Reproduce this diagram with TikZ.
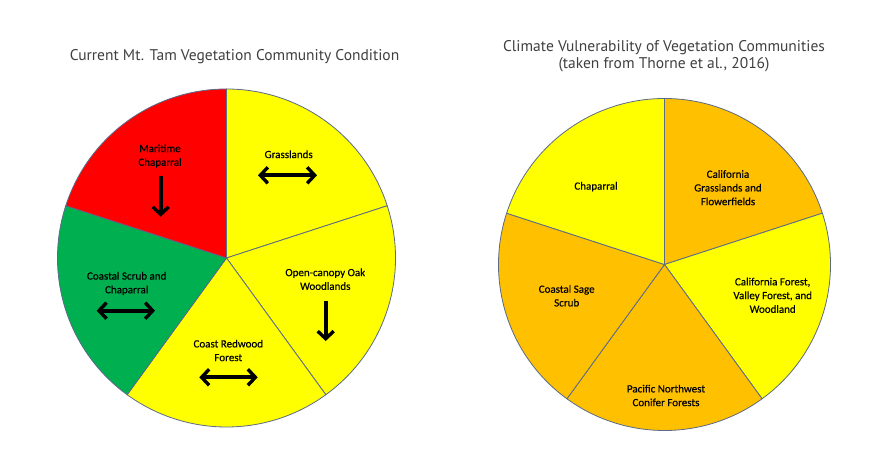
\documentclass[tikz,border=0pt]{standalone}
\usepackage{fontspec}
\setmainfont{Carlito}[FakeBold=0.35]
\newfontfamily\titlefont{PT Sans}
\usetikzlibrary{arrows.meta}
\definecolor{cred}{HTML}{FF0000}
\definecolor{cyel}{HTML}{FFFF00}
\definecolor{cgrn}{HTML}{00B050}
\definecolor{corg}{HTML}{FFC000}
\definecolor{edge}{HTML}{5A6A88}
\definecolor{ttl}{HTML}{404040}
\tikzset{
  lbl/.style={align=center, font=\fontsize{11}{13.7}\selectfont, text=black, inner sep=0pt},
  ttlstyle/.style={align=center, font=\titlefont\fontsize{15.5}{17.3}\selectfont, text=ttl, inner sep=0pt},
  barb/.tip={Straight Barb[length=7.5pt,width=16pt,line width=3.4pt]},
  trend/.style={line width=4pt, black, -barb},
  trendboth/.style={line width=4pt, black, barb-barb},
  slice/.style={draw=edge, line width=0.8pt}
}
\newcommand{\pieslice}[5]{% center, radius, start, end, color
  \filldraw[fill=#5, slice] (#1) -- ++(#3:#2) arc[start angle=#3, end angle=#4, radius=#2] -- cycle;
}
\begin{document}
\begin{tikzpicture}[x=1pt,y=1pt]
\useasboundingbox (0,0) rectangle (889,476);
\fill[white] (0,0) rectangle (889,476);

% ---------- Left pie ----------
\coordinate (L) at (226.5,218);
\pieslice{L}{169}{90}{18}{cyel}
\pieslice{L}{169}{18}{-54}{cyel}
\pieslice{L}{169}{-54}{-126}{cyel}
\pieslice{L}{169}{-126}{-198}{cgrn}
\pieslice{L}{169}{162}{90}{cred}

\node[ttlstyle] (ltitle) at (234.5,419.3) {Current Mt. Tam Vegetation Community Condition};

\node[lbl] (mar) at (160,320) {Maritime\\Chaparral};
\node[lbl] (gra) at (288.7,321.7) {Grasslands};
\node[lbl] (oak) at (325.3,196.8) {Open-canopy Oak\\Woodlands};
\node[lbl] (csc) at (126.7,192.5) {Coastal Scrub and\\Chaparral};
\node[lbl] (crf) at (228.3,125.5) {Coast Redwood\\Forest};

\coordinate (mar1) at (160.7,300.3); \coordinate (mar2) at (160.7,259.3);
\coordinate (gra1) at (258,300.7);   \coordinate (gra2) at (317,300.7);
\coordinate (oak1) at (325.7,175);   \coordinate (oak2) at (325.7,135);
\coordinate (csc1) at (96.7,165.3);  \coordinate (csc2) at (155,165.3);
\coordinate (crf1) at (199.3,98.7);  \coordinate (crf2) at (257.7,98.7);
\draw[trend] (mar1) -- (mar2);
\draw[trendboth] (gra1) -- (gra2);
\draw[trend] (oak1) -- (oak2);
\draw[trendboth] (csc1) -- (csc2);
\draw[trendboth] (crf1) -- (crf2);

% ---------- Right pie ----------
\coordinate (R) at (664.5,211.5);
\pieslice{R}{166}{90}{18}{corg}
\pieslice{R}{166}{18}{-54}{cyel}
\pieslice{R}{166}{-54}{-126}{corg}
\pieslice{R}{166}{-126}{-198}{corg}
\pieslice{R}{166}{162}{90}{cyel}

\node[ttlstyle] (rtitle) at (664,419.7) {Climate Vulnerability of Vegetation Communities\\(taken from Thorne et al., 2016)};

\node[lbl] (chp) at (596,289.3) {Chaparral};
\node[lbl] (cgf) at (728,288.3) {California\\Grasslands and\\Flowerfields};
\node[lbl] (cfv) at (772.7,180.7) {California Forest,\\Valley Forest, and\\Woodland};
\node[lbl] (css) at (566.7,180.2) {Coastal Sage\\Scrub};
\node[lbl] (pnw) at (666,80.5) {Pacific Northwest\\Conifer Forests};
\end{tikzpicture}
\end{document}
